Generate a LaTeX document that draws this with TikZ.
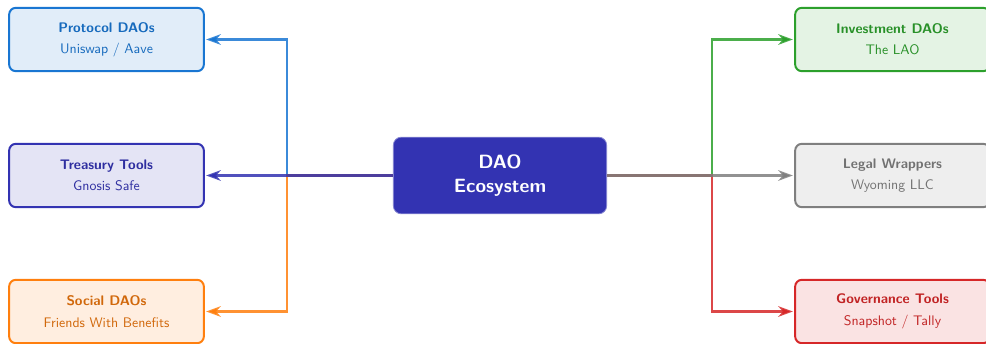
\documentclass[tikz,border=0pt]{standalone}
\usetikzlibrary{arrows.meta}
\definecolor{cblue}{RGB}{25,118,210}
\definecolor{cindigo}{RGB}{51,51,178}
\definecolor{corange}{RGB}{255,127,14}
\definecolor{cgreen}{RGB}{44,160,44}
\definecolor{cgray}{RGB}{127,127,127}
\definecolor{cred}{RGB}{214,39,40}
\tikzset{
  leaf/.style={draw=#1, fill=#1!13, line width=1.5pt, rounded corners=5pt,
    minimum width=146pt, minimum height=47.5pt, align=center,
    font=\sffamily\fontsize{10.4}{12.5}\selectfont, text=#1!90!black},
  hub/.style={fill=cindigo, draw=cindigo!60, line width=0.6pt, rounded corners=6pt,
    minimum width=160pt, minimum height=57.5pt, align=center,
    font=\sffamily\bfseries\Large, text=white},
  conn/.style={draw=#1, line width=1.6pt, draw opacity=0.85,
    -{Stealth[length=11pt,width=8pt]}, shorten >=1pt},
}
\newcommand{\leaftext}[2]{\textbf{#1}\\[3.5pt]#2}
\begin{document}
\begin{tikzpicture}[x=0.75pt,y=-0.75pt]
\useasboundingbox (0,0) rectangle (986,343);
\coordinate (lj) at (287,175.5);
\coordinate (rj) at (712,175.5);
\node[hub] (hub) at (500,175.5) {DAO\\Ecosystem};
\node[leaf=cblue] (protocol) at (106.5,39.5) {\leaftext{Protocol DAOs}{Uniswap / Aave}};
\node[leaf=cindigo] (treasury) at (106.5,175.5) {\leaftext{Treasury Tools}{Gnosis Safe}};
\node[leaf=corange, text=corange!82!black] (social) at (106.5,311.5) {\leaftext{Social DAOs}{Friends With Benefits}};
\node[leaf=cgreen] (invest) at (892.5,39.5) {\leaftext{Investment DAOs}{The LAO}};
\node[leaf=cgray] (legal) at (892.5,175.5) {\leaftext{Legal Wrappers}{Wyoming LLC}};
\node[leaf=cred] (gov) at (892.5,311.5) {\leaftext{Governance Tools}{Snapshot / Tally}};
\draw[conn=cblue] (hub.west) -- (lj) |- (protocol.east);
\draw[conn=corange] (hub.west) -- (lj) |- (social.east);
\draw[conn=cindigo] (hub.west) -- (treasury.east);
\draw[conn=cgreen] (hub.east) -- (rj) |- (invest.west);
\draw[conn=cred] (hub.east) -- (rj) |- (gov.west);
\draw[conn=cgray] (hub.east) -- (legal.west);
\end{tikzpicture}
\end{document}
